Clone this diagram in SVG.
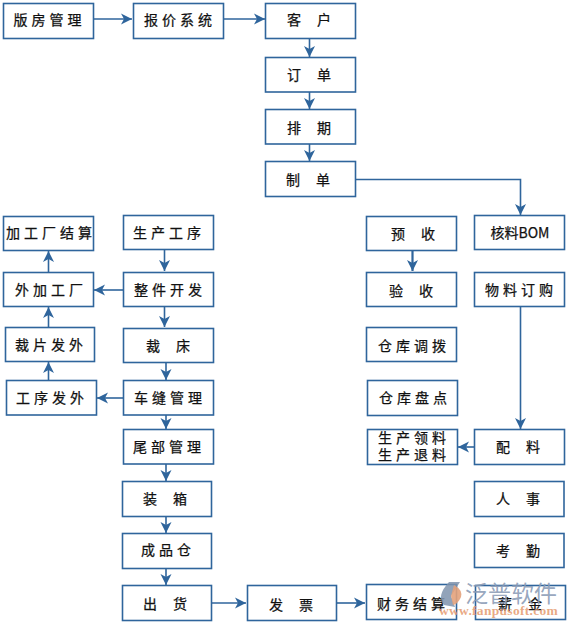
<svg xmlns="http://www.w3.org/2000/svg" width="567" height="625" viewBox="0 0 567 625">
<style>
.n rect{fill:#fff;stroke:#2f659c;stroke-width:1.6}
.n text{font-family:"Noto Sans CJK SC","Noto Sans",sans-serif;font-size:14px;letter-spacing:4px;word-spacing:5px;fill:#111;text-anchor:middle;stroke:#111;stroke-width:.25}
.c line,.c polyline{fill:none;stroke:#2f659c;stroke-width:1.6;marker-end:url(#a)}
.c .h{stroke-width:2.2}
</style>
<defs>
<marker id="a" markerUnits="userSpaceOnUse" markerWidth="14" markerHeight="14" refX="11" refY="6" orient="auto">
<path d="M0 0.5L11 6L0 11.5L3 6Z" fill="#2f659c"/>
</marker>
</defs>
<rect width="567" height="625" fill="#fff"/>
<g class="c" id="connectors">
<line x1="93" y1="19" x2="132" y2="19"/>
<line x1="223" y1="19" x2="265" y2="19"/>
<line x1="309.5" y1="38" x2="309.5" y2="57"/>
<line x1="309.5" y1="92" x2="309.5" y2="109"/>
<line x1="309.5" y1="144" x2="309.5" y2="161"/>
<polyline points="355,179.5 520.5,179.5 520.5,215"/>
<line x1="164.5" y1="249" x2="164.5" y2="271"/>
<line x1="123" y1="290" x2="94" y2="290"/>
<line x1="164.5" y1="306" x2="164.5" y2="327"/>
<line x1="166" y1="362" x2="166" y2="380"/>
<line x1="123" y1="398" x2="97" y2="398"/>
<line x1="48.5" y1="272" x2="48.5" y2="251"/>
<line x1="48.5" y1="327" x2="48.5" y2="307"/>
<line x1="48.5" y1="380" x2="48.5" y2="362"/>
<line x1="166" y1="415" x2="166" y2="429"/>
<line x1="166" y1="464" x2="166" y2="481"/>
<line x1="166" y1="516" x2="166" y2="533"/>
<line x1="166" y1="568" x2="166" y2="585"/>
<line x1="211" y1="603" x2="246" y2="603"/>
<line x1="336" y1="603" x2="365" y2="603"/>
<line class="h" x1="412.5" y1="250" x2="412.5" y2="271"/>
<line x1="520.5" y1="306" x2="520.5" y2="429"/>
<line x1="474" y1="447" x2="458" y2="447"/>
</g>
<g class="n" id="n1"><rect x="3.5" y="3.5" width="90" height="35"/><text x="49.5" y="25">版房管理</text></g>
<g class="n" id="n2"><rect x="133.5" y="3.5" width="90" height="35"/><text x="180" y="25">报价系统</text></g>
<g class="n" id="n3"><rect x="265.5" y="3.5" width="90" height="35"/><text x="311" y="25">客 户</text></g>
<g class="n" id="n4"><rect x="265.5" y="57.5" width="90" height="34.5"/><text x="311" y="80">订 单</text></g>
<g class="n" id="n5"><rect x="265.5" y="109.5" width="90" height="34.5"/><text x="311" y="133">排 期</text></g>
<g class="n" id="n6"><rect x="265.5" y="161.5" width="90" height="35"/><text x="310" y="185">制 单</text></g>
<g class="n" id="n7"><rect x="3.5" y="216.5" width="90" height="34"/><text x="51" y="238">加工厂结算</text></g>
<g class="n" id="n8"><rect x="123.5" y="215.5" width="90" height="34"/><text x="169" y="238">生产工序</text></g>
<g class="n" id="n9"><rect x="3.5" y="272.5" width="90" height="34"/><text x="51" y="295">外加工厂</text></g>
<g class="n" id="n10"><rect x="123.5" y="272.5" width="90" height="34"/><text x="170" y="295">整件开发</text></g>
<g class="n" id="n11"><rect x="5.5" y="327.5" width="89" height="34"/><text x="51" y="350">裁片发外</text></g>
<g class="n" id="n12"><rect x="123.5" y="328.5" width="90" height="34"/><text x="170" y="351">裁 床</text></g>
<g class="n" id="n13"><rect x="6.5" y="380.5" width="90" height="34.5"/><text x="52" y="403">工序发外</text></g>
<g class="n" id="n14"><rect x="123.5" y="380.5" width="90" height="34.5"/><text x="170" y="403">车缝管理</text></g>
<g class="n" id="n15"><rect x="123.5" y="429.5" width="90" height="34.5"/><text x="169" y="452">尾部管理</text></g>
<g class="n" id="n16"><rect x="122.5" y="481.5" width="89" height="35"/><text x="167" y="504">装 箱</text></g>
<g class="n" id="n17"><rect x="122.5" y="533.5" width="89" height="35"/><text x="168" y="555">成品仓</text></g>
<g class="n" id="n18"><rect x="122.5" y="585.5" width="89" height="35"/><text x="167" y="609">出 货</text></g>
<g class="n" id="n19"><rect x="247.5" y="585.5" width="89" height="35"/><text x="293" y="610">发 票</text></g>
<g class="n" id="n20"><rect x="366.5" y="584.5" width="90" height="35"/><text x="413" y="609">财务结算</text></g>
<g class="n" id="n21"><rect x="366.5" y="216.5" width="90" height="34"/><text x="415" y="239">预 收</text></g>
<g class="n" id="n22"><rect x="366.5" y="272.5" width="90" height="34"/><text x="413" y="296">验 收</text></g>
<g class="n" id="n23"><rect x="366.5" y="327.5" width="90" height="34"/><text x="414" y="351">仓库调拨</text></g>
<g class="n" id="n24"><rect x="367.5" y="380.5" width="90" height="35"/><text x="415" y="403">仓库盘点</text></g>
<g class="n" id="n25"><rect x="367.5" y="429.5" width="90" height="35"/><text x="414" y="443">生产领料</text><text x="414" y="460">生产退料</text></g>
<g class="n" id="n26"><rect x="474.5" y="215.5" width="90" height="34"/><text x="520" y="238" style="letter-spacing:0">核料BOM</text></g>
<g class="n" id="n27"><rect x="474.5" y="272.5" width="90" height="34"/><text x="521" y="295">物料订购</text></g>
<g class="n" id="n28"><rect x="474.5" y="429.5" width="90" height="35"/><text x="520" y="452">配 料</text></g>
<g class="n" id="n29"><rect x="474.5" y="481.5" width="89.5" height="35"/><text x="520" y="504">人 事</text></g>
<g class="n" id="n30"><rect x="474.5" y="533.5" width="89.5" height="34"/><text x="520" y="556">考 勤</text></g>
<g class="n" id="n31"><rect x="475.5" y="585.5" width="90" height="34"/><text x="522" y="609">薪 金</text></g>
<path d="M449 582L460 582L451 596L455 607L444 605Q436 596 449 582Z" fill="#7f93ad" fill-opacity=".85"/>
<path d="M454 585Q463 590 461 597Q458 604 453 605L451 596Z" fill="#e3a27c" fill-opacity=".9"/>
<text x="465" y="602" font-family="Noto Sans CJK SC,sans-serif" font-size="23" fill="#8b9cb6" fill-opacity=".9">泛普软件</text>
<text x="439" y="615" font-family="Liberation Serif,serif" font-size="13.5" font-weight="bold" fill="#e59a6e" fill-opacity=".85" letter-spacing=".3">www.fanpusoft.com</text>
</svg>
